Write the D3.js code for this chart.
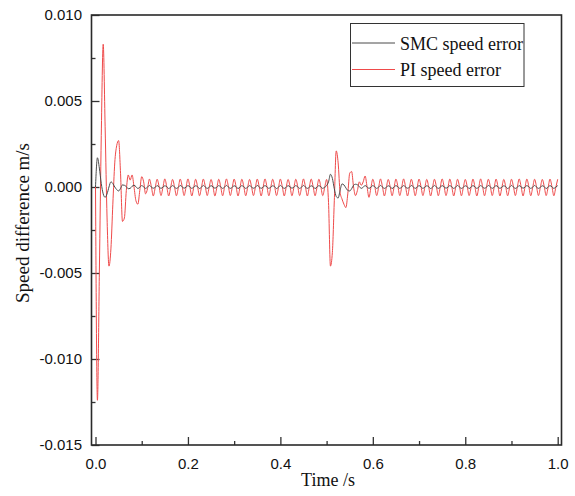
<!DOCTYPE html>
<html>
<head>
<meta charset="utf-8">
<script src="https://cdn.jsdelivr.net/npm/d3@7"></script>
<style>
  html, body { margin: 0; padding: 0; background: #fff; }
  svg { display: block; }
  .tick text { font-family: "Liberation Sans", Arial, sans-serif; font-size: 15px; fill: #111; }
  .title { font-family: "Liberation Serif", "Times New Roman", serif; fill: #111; }
</style>
</head>
<body>
<svg id="chart" width="575" height="496"></svg>
<script>
// Sampling interval of both speed-error records (s)
const sampleStep = 1 / 240;

// PI controller speed error (m/s), one value per sample
const piError = [
  0, -0.0124, -0.0050, 0.0030, 0.0083, 0.0035, -0.0018, -0.0046,
  -0.0036, -0.0010, 0.0014, 0.0024, 0.0027, 0.0008, -0.0020, -0.0018,
  -0.0002, 0.0007, 0.0004, 0.0007, 0.0000, -0.0008, -0.0010, -0.0002,
  0.0006, 0.0003, -0.0004, -0.0001, 0.00046, 0.00003, -0.00052, -0.00004,
  0.00045, 0.00004, -0.00050, -0.00003, 0.00047, 0.00002, -0.00052, -0.00004,
  0.00044, 0.00003, -0.00051, -0.00004, 0.00046, 0.00004, -0.00050, -0.00002,
  0.00047, 0.00002, -0.00052, -0.00003, 0.00045, 0.00003, -0.00051, -0.00004,
  0.00046, 0.00004, -0.00050, -0.00003, 0.00044, 0.00002, -0.00052, -0.00004,
  0.00045, 0.00003, -0.00051, -0.00002, 0.00047, 0.00004, -0.00050, -0.00003,
  0.00046, 0.00002, -0.00052, -0.00004, 0.00045, 0.00003, -0.00051, -0.00003,
  0.00044, 0.00004, -0.00050, -0.00004, 0.00046, 0.00002, -0.00052, -0.00003,
  0.00047, 0.00003, -0.00051, -0.00002, 0.00045, 0.00004, -0.00050, -0.00004,
  0.00046, 0.00002, -0.00052, -0.00003, 0.00044, 0.00003, -0.00051, -0.00004,
  0.00045, 0.00004, -0.00050, -0.00003, 0.00047, 0.00002, -0.00052, -0.00002,
  0.00046, 0.00003, -0.00051, -0.00004, 0.00045, 0.00002, -0.00050, -0.00003,
  0.00044, -0.0009, -0.0046, -0.0038, -0.0008, 0.0021, 0.0014, -0.0003,
  -0.0007, -0.0010, -0.0012, -0.0004, 0.0008, 0.0009, 0.0000, -0.0005,
  -0.0002, 0.0003, 0.0001, 0.0003, 0.00064, 0.00002, -0.00060, -0.00004,
  0.00045, 0.00004, -0.00050, -0.00003, 0.00047, 0.00002, -0.00052, -0.00004,
  0.00044, 0.00003, -0.00051, -0.00004, 0.00046, 0.00004, -0.00050, -0.00002,
  0.00047, 0.00002, -0.00052, -0.00003, 0.00045, 0.00003, -0.00051, -0.00004,
  0.00046, 0.00004, -0.00050, -0.00003, 0.00044, 0.00002, -0.00052, -0.00004,
  0.00045, 0.00003, -0.00051, -0.00002, 0.00047, 0.00004, -0.00050, -0.00003,
  0.00046, 0.00002, -0.00052, -0.00004, 0.00045, 0.00003, -0.00051, -0.00003,
  0.00044, 0.00004, -0.00050, -0.00004, 0.00046, 0.00002, -0.00052, -0.00003,
  0.00047, 0.00003, -0.00051, -0.00002, 0.00045, 0.00004, -0.00050, -0.00004,
  0.00046, 0.00002, -0.00052, -0.00003, 0.00044, 0.00003, -0.00051, -0.00004,
  0.00045, 0.00004, -0.00050, -0.00003, 0.00047, 0.00002, -0.00052, -0.00002,
  0.00046, 0.00003, -0.00051, -0.00004, 0.00045, 0.00002, -0.00050, -0.00003,
  0.00044, 0.00004, -0.00050, -0.00004, 0.00046, 0.00003, -0.00051, -0.00003,
  0.00045
];

// SMC speed error (m/s), one value per sample
const smcError = [
  0, 0.0017, 0.0011, 0.0002, -0.0004, -0.0006, -0.0004, 0.0000,
  0.0003, 0.0002, 0.0000, -0.00015, -0.00023, -0.00008, 0.00012, 0.0001,
  0.00002, -0.0001, -0.00008, 0.00004, 0.0001, 0.00002, -0.00009, -0.00001,
  0.00008, 0.00001, -0.00008, -0.00001, 0.00009, 0.00000, -0.00007, -0.00002,
  0.00008, 0.00001, -0.00008, -0.00001, 0.00007, 0.00002, -0.00009, -0.00001,
  0.00008, 0.00000, -0.00008, -0.00002, 0.00009, 0.00001, -0.00007, -0.00001,
  0.00008, 0.00001, -0.00008, -0.00001, 0.00007, 0.00002, -0.00009, -0.00001,
  0.00009, 0.00000, -0.00008, -0.00002, 0.00008, 0.00001, -0.00007, -0.00001,
  0.00008, 0.00001, -0.00008, -0.00001, 0.00009, 0.00000, -0.00008, -0.00002,
  0.00007, 0.00002, -0.00009, -0.00001, 0.00008, 0.00001, -0.00008, -0.00001,
  0.00008, 0.00000, -0.00007, -0.00002, 0.00009, 0.00001, -0.00008, -0.00001,
  0.00008, 0.00001, -0.00008, -0.00001, 0.00007, 0.00002, -0.00009, -0.00001,
  0.00009, 0.00000, -0.00008, -0.00002, 0.00008, 0.00001, -0.00007, -0.00001,
  0.00008, 0.00001, -0.00008, -0.00001, 0.00009, 0.00000, -0.00008, -0.00002,
  0.00007, 0.00002, -0.00009, -0.00001, 0.00008, 0.00001, -0.00008, -0.00001,
  0.00008, 0.0003, 0.00074, 0.0005, -0.0001, -0.00055, -0.00064, -0.0002,
  0.00018, 0.00012, -0.00005, -0.0002, -0.00023, -0.0001, 0.0001, 0.00016,
  0.00013, 0.00002, -0.00008, -0.00001, 0.00008, 0.00001, -0.00008, -0.00001,
  0.00008, 0.00001, -0.00008, -0.00001, 0.00009, 0.00000, -0.00008, -0.00002,
  0.00007, 0.00002, -0.00009, -0.00001, 0.00008, 0.00001, -0.00008, -0.00001,
  0.00008, 0.00000, -0.00007, -0.00002, 0.00009, 0.00001, -0.00008, -0.00001,
  0.00008, 0.00001, -0.00008, -0.00001, 0.00007, 0.00002, -0.00009, -0.00001,
  0.00009, 0.00000, -0.00008, -0.00002, 0.00008, 0.00001, -0.00007, -0.00001,
  0.00008, 0.00001, -0.00008, -0.00001, 0.00009, 0.00000, -0.00008, -0.00002,
  0.00007, 0.00002, -0.00009, -0.00001, 0.00008, 0.00001, -0.00008, -0.00001,
  0.00008, 0.00000, -0.00007, -0.00002, 0.00009, 0.00001, -0.00008, -0.00001,
  0.00008, 0.00001, -0.00008, -0.00001, 0.00007, 0.00002, -0.00009, -0.00001,
  0.00009, 0.00000, -0.00008, -0.00002, 0.00008, 0.00001, -0.00007, -0.00001,
  0.00008, 0.00001, -0.00008, -0.00001, 0.00009, 0.00000, -0.00008, -0.00002,
  0.00007, 0.00002, -0.00009, -0.00001, 0.00008, 0.00001, -0.00008, -0.00001,
  0.00008
];

// Axis ticks
const xTicks = [0, 0.2, 0.4, 0.6, 0.8, 1.0];
const xMinorTicks = [0.1, 0.3, 0.5, 0.7, 0.9];
const yTicks = [-0.015, -0.010, -0.005, 0.000, 0.005, 0.010];
const yMinorTicks = [-0.0125, -0.0075, -0.0025, 0.0025, 0.0075];

const seriesNames = ["SMC speed error", "PI speed error"];
const seriesColors = ["#4a4a4a", "#ef4a4a"];

const svg = d3.select("#chart");
const frame = { left: 91.5, right: 561.5, top: 15, bottom: 445 };

const x = d3.scaleLinear().domain([0, 1]).range([95.5, 557.7]);
const y = d3.scaleLinear().domain([-0.015, 0.010]).range([frame.bottom, frame.top]);

// Plain hyphen-minus tick labels
const fmtX = d => d.toFixed(1);
const fmtY = d => (Math.abs(d) < 1e-12 ? 0 : d).toFixed(3);

// Minor ticks (inward, no labels)
svg.append("g")
  .attr("transform", `translate(0,${frame.bottom})`)
  .call(d3.axisBottom(x).tickValues(xMinorTicks).tickSize(-4).tickFormat(""))
  .call(g => g.select(".domain").remove())
  .selectAll("line").attr("stroke", "#333").attr("stroke-width", 1.3);

svg.append("g")
  .attr("transform", `translate(${frame.left},0)`)
  .call(d3.axisLeft(y).tickValues(yMinorTicks).tickSize(-4).tickFormat(""))
  .call(g => g.select(".domain").remove())
  .selectAll("line").attr("stroke", "#333").attr("stroke-width", 1.3);

// Major ticks with labels
svg.append("g")
  .attr("transform", `translate(0,${frame.bottom})`)
  .call(d3.axisBottom(x).tickValues(xTicks).tickSize(-8).tickPadding(13).tickFormat(fmtX))
  .call(g => g.select(".domain").remove())
  .call(g => g.selectAll("line").attr("stroke", "#333").attr("stroke-width", 1.3));

svg.append("g")
  .attr("transform", `translate(${frame.left},0)`)
  .call(d3.axisLeft(y).tickValues(yTicks).tickSize(-8).tickPadding(9.5).tickFormat(fmtY))
  .call(g => g.select(".domain").remove())
  .call(g => g.selectAll("line").attr("stroke", "#333").attr("stroke-width", 1.3));

// Plot frame
svg.append("rect")
  .attr("x", frame.left).attr("y", frame.top)
  .attr("width", frame.right - frame.left).attr("height", frame.bottom - frame.top)
  .attr("fill", "none").attr("stroke", "#2a2a2a").attr("stroke-width", 1.6);

// Series lines
const line = d3.line()
  .x((d, i) => x(i * sampleStep))
  .y(d => y(d))
  .curve(d3.curveMonotoneX);

svg.append("path")
  .datum(piError)
  .attr("fill", "none")
  .attr("stroke", seriesColors[1])
  .attr("stroke-width", 1)
  .attr("d", line);

svg.append("path")
  .datum(smcError)
  .attr("fill", "none")
  .attr("stroke", seriesColors[0])
  .attr("stroke-width", 1)
  .attr("d", line);

// Axis titles
svg.append("text")
  .attr("class", "title")
  .attr("x", 328).attr("y", 486)
  .attr("text-anchor", "middle")
  .style("font-size", "18px")
  .text("Time /s");

svg.append("text")
  .attr("class", "title")
  .attr("transform", "translate(29,223) rotate(-90)")
  .attr("text-anchor", "middle")
  .style("font-size", "19px")
  .text("Speed difference m/s");

// Legend
const legend = svg.append("g");
legend.append("rect")
  .attr("x", 350.5).attr("y", 23.5)
  .attr("width", 173.5).attr("height", 63)
  .attr("fill", "#fff").attr("stroke", "#333").attr("stroke-width", 1);

seriesNames.forEach((name, k) => {
  const ly = 43 + k * 26.5;
  legend.append("line")
    .attr("x1", 352).attr("x2", 395)
    .attr("y1", ly).attr("y2", ly)
    .attr("stroke", seriesColors[k]).attr("stroke-width", 1);
  legend.append("text")
    .attr("class", "title")
    .attr("x", 400).attr("y", ly + 6.5)
    .style("font-size", "18px")
    .text(name);
});
</script>
</body>
</html>
